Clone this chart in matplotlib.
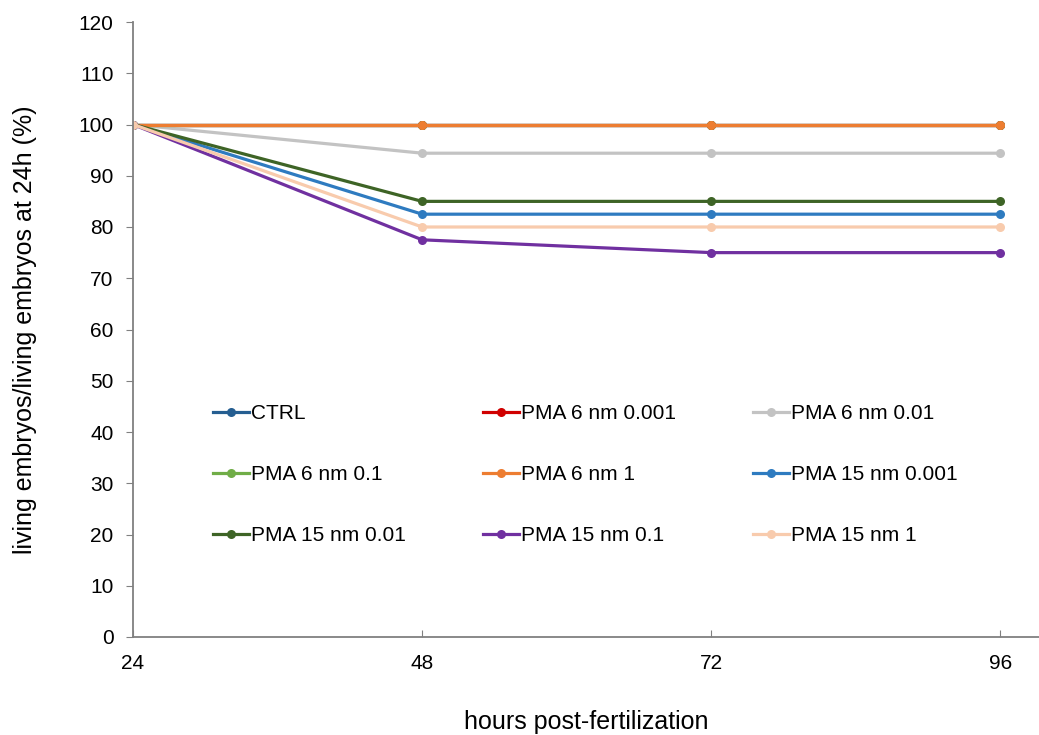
import matplotlib
matplotlib.use("Agg")
import matplotlib.pyplot as plt

hours = [24, 48, 72, 96]
series_names = ["CTRL", "PMA 6 nm 0.001", "PMA 6 nm 0.01",
                "PMA 6 nm 0.1", "PMA 6 nm 1", "PMA 15 nm 0.001",
                "PMA 15 nm 0.01", "PMA 15 nm 0.1", "PMA 15 nm 1"]
ctrl = [100, 100, 100, 100]
pma6_0001 = [100, 100, 100, 100]
pma6_001 = [100, 94.4, 94.4, 94.4]
pma6_01 = [100, 100, 100, 100]
pma6_1 = [100, 100, 100, 100]
pma15_0001 = [100, 82.5, 82.5, 82.5]
pma15_001 = [100, 85, 85, 85]
pma15_01 = [100, 77.5, 75, 75]
pma15_1 = [100, 80, 80, 80]
series_values = [ctrl, pma6_0001, pma6_001, pma6_01, pma6_1,
                 pma15_0001, pma15_001, pma15_01, pma15_1]
colors = ["#255E91", "#D00000", "#C3C3C3", "#70AD47", "#ED7D31",
          "#2E7BC0", "#3E6426", "#7030A0", "#F8CBAD"]
y_ticks = list(range(0, 121, 10))

plt.rcParams['font.family'] = ['Liberation Sans', 'DejaVu Sans']

fig = plt.figure(figsize=(10.39, 7.35), dpi=100)
ax = fig.add_axes([133/1039, 1 - 637/735, (1039 - 133)/1039, (637 - 22)/735])

handles = []
for name, vals, c in zip(series_names, series_values, colors):
    h, = ax.plot(hours, vals, color=c, lw=2.3, marker='o', ms=6.5,
                 markeredgewidth=0, label=name)
    handles.append(h)

ax.set_xlim(24, 99.2)
ax.set_ylim(0, 120)
ax.set_yticks(y_ticks)
ax.set_xticks(hours)
ax.tick_params(axis='y', direction='out', length=5, color='#808080',
               labelsize=15, pad=9)
ax.tick_params(axis='x', direction='in', length=5, color='#808080',
               labelsize=15, pad=12)
for s in ['top', 'right']:
    ax.spines[s].set_visible(False)
for s in ['left', 'bottom']:
    ax.spines[s].set_color('#808080')
    ax.spines[s].set_linewidth(1.3)

ax.set_ylabel("living embryos/living embryos at 24h (%)", fontsize=18, labelpad=30)
ax.set_xlabel("hours post-fertilization", fontsize=18, labelpad=27)

# row-wise ordering for 3 columns (matplotlib fills column-first)
order = [0, 3, 6, 1, 4, 7, 2, 5, 8]
leg = fig.legend([handles[i] for i in order], [series_names[i] for i in order],
                 ncol=3, loc='upper left',
                 bbox_to_anchor=(213/1039, 1 - 404/735),
                 bbox_transform=fig.transFigure,
                 frameon=False, fontsize=15, handlelength=1.73,
                 handletextpad=0.1, labelspacing=2.02, columnspacing=3.7,
                 borderaxespad=0, borderpad=0)

fig.savefig("out.png", dpi=100)
